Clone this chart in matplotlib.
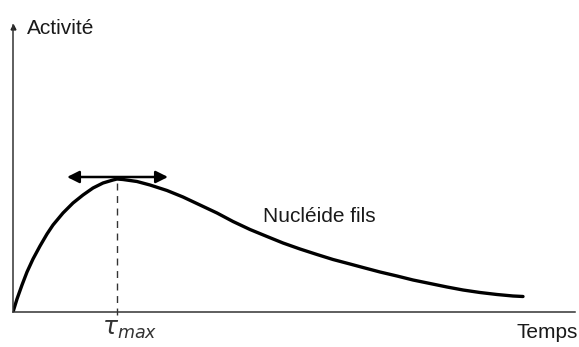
import matplotlib
matplotlib.use("Agg")
import matplotlib.pyplot as plt

plt.rcParams['font.family'] = ['Liberation Sans', 'DejaVu Sans']

# Daughter-nuclide activity versus time (arbitrary units)
temps = [0, 4, 9, 14, 20, 27, 34, 40, 50, 60, 70, 80, 90, 100, 104, 110,
         124, 137, 154, 170, 187, 204, 220, 237, 254, 270, 287, 304, 320,
         337, 350, 367, 384, 400, 417, 434, 450, 467, 484, 500, 510]
activite = [0, 13, 27, 40, 53, 66, 78, 87, 99, 109, 117, 124, 129, 132,
            133, 132.5, 130.5, 127, 121.5, 115, 107, 99, 90.5, 82.5, 75.5,
            69, 63, 57.5, 52.5, 48, 44.5, 40, 36, 32, 28.5, 25, 22, 19.5,
            17.5, 16, 15.5]
t_max = 104
a_max = 133
fleche_gauche, fleche_droite = 54, 155

W, H = 579, 347
fig = plt.figure(figsize=(W / 100, H / 100), dpi=100)
ax = fig.add_axes([13 / W, 35 / H, (575 - 13) / W, (312 - 25) / H])
ax.set_xlim(0, 562)
ax.set_ylim(0, 287)

for s in ('top', 'right'):
    ax.spines[s].set_visible(False)
for s in ('left', 'bottom'):
    ax.spines[s].set_color('#333333')
    ax.spines[s].set_linewidth(1.1)
ax.set_xticks([])
ax.set_yticks([])

# small arrowhead on the activity axis
ax.plot([0], [285], marker='^', markersize=3.5, color='#222222', clip_on=False)

# activity curve
ax.plot(temps, activite, color='black', linewidth=2.4,
        solid_capstyle='round', solid_joinstyle='round')

# dashed line at the maximum
ax.plot([t_max, t_max], [-3, a_max], color='#333333', linewidth=1.0,
        linestyle=(0, (5, 4)), clip_on=False)

# double-headed horizontal arrow at the maximum (tangent)
ax.annotate('', xy=(fleche_gauche, a_max + 2), xytext=(fleche_droite, a_max + 2),
            arrowprops=dict(arrowstyle='<|-|>', color='black', lw=1.8,
                            mutation_scale=18, shrinkA=0, shrinkB=0))

txt = dict(color='#1a1a1a', fontsize=15)
ax.text(14, 284, 'Activité', ha='left', va='center', **txt)
ax.text(250, 95, 'Nucléide fils', ha='left', va='center', **txt)
ax.text(565, -20, 'Temps', ha='right', va='center', clip_on=False, **txt)
ax.text(t_max + 13, -17, r'$\tau_{max}$', ha='center', va='center',
        fontsize=18, color='#333333', clip_on=False)

fig.savefig('out.png', dpi=100, facecolor='white')
